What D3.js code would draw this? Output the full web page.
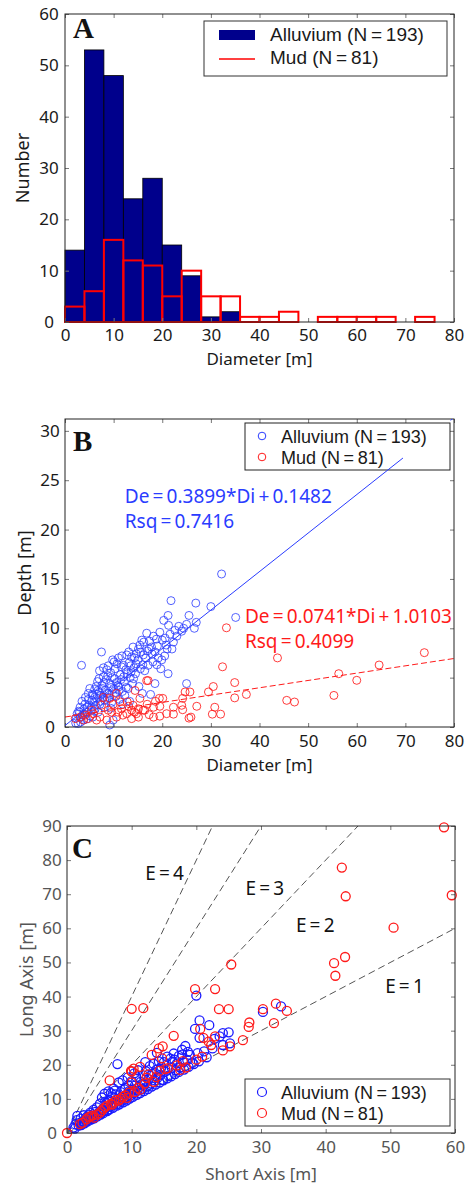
<!DOCTYPE html>
<html>
<head>
<meta charset="utf-8">
<script src="https://cdn.jsdelivr.net/npm/d3@7"></script>
<style>
  body { margin: 0; background: #fff; }
  text { font-family: "Noto Sans", sans-serif; }
  .legend-text { font-family: "Liberation Sans", Arial, sans-serif; }
</style>
</head>
<body>
<div id="chart"></div>
<script>
// ---- data ----
const binWidth = 4
const alluviumCounts = [14, 53, 48, 24, 28, 15, 9, 1, 2]
const mudCounts = [3, 6, 16, 12, 11, 5, 10, 5, 5, 1, 1, 2, 0, 1, 1, 1, 1, 0, 1]
const seriesNames = ["Alluvium (N\u2009=\u2009193)", "Mud (N\u2009=\u200981)"]

const xTicksA = [0, 10, 20, 30, 40, 50, 60, 70, 80]
const yTicksA = [0, 10, 20, 30, 40, 50, 60]
const yTicksB = [0, 5, 10, 15, 20, 25, 30]
const xTicksC = [0, 10, 20, 30, 40, 50, 60]
const yTicksC = [0, 10, 20, 30, 40, 50, 60, 70, 80, 90]

// fits: slope, intercept, rsq
const alluviumFit = [0.3899, 0.1482, 0.7416]
const mudFit = [0.0741, 1.0103, 0.4099]
const ratioLines = [1, 2, 3, 4]

// diameter [m], depth [m]
const alluviumDepth = [
  [2.3,0.9],[2.5,1.35],[2.7,0.35],[2.8,1.6],[3.1,2.0],[3.2,0.5],[3.4,6.25],[3.6,1.2],[3.8,0.7],[3.9,1.8],
  [4.1,2.3],[4.4,0.8],[4.6,1.5],[4.8,2.8],[4.8,3.4],[5.0,2.2],[5.2,1.1],[5.4,2.0],[5.5,2.7],[5.6,3.3],
  [5.8,3.2],[6.0,1.6],[6.1,3.8],[6.2,1.85],[6.3,2.2],[6.5,2.9],[6.7,4.6],[6.8,1.5],[6.8,3.7],[7.0,3.5],
  [7.1,5.7],[7.3,2.6],[7.5,7.6],[7.6,4.2],[7.8,3.0],[7.9,5.1],[8.1,2.0],[8.3,3.7],[8.5,4.8],[8.6,3.4],
  [8.7,2.9],[8.9,6.2],[9.0,3.4],[9.2,4.4],[9.2,0.2],[9.4,5.5],[9.6,2.5],[9.8,6.8],[9.9,0.7],[10.0,3.9],
  [10.2,4.9],[10.3,5.9],[10.5,3.1],[10.7,6.4],[10.9,4.2],[11.0,7.0],[11.0,4.05],[11.2,2.8],[11.4,5.3],[11.6,6.1],
  [11.8,3.6],[12.0,6.25],[12.2,4.6],[12.3,3.2],[12.5,5.8],[12.7,7.3],[13.0,3.9],[13.2,6.5],[13.4,5.0],[13.7,7.1],
  [13.9,4.4],[14.0,8.1],[14.2,6.0],[14.5,5.4],[14.7,7.4],[15.0,6.8],[15.2,4.1],[15.4,8.3],[15.8,8.8],[16.0,6.3],
  [16.1,7.3],[16.4,5.7],[16.8,9.5],[17.1,6.25],[17.3,7.9],[17.6,3.3],[17.8,8.1],[18.1,6.6],[18.5,7.6],[18.5,4.4],
  [18.8,8.9],[19.2,7.0],[19.7,5.9],[19.9,6.8],[20.0,8.8],[20.3,10.8],[20.6,9.0],[21.0,7.9],[21.2,11.3],[21.2,5.4],
  [21.3,10.3],[21.8,12.8],[22.0,7.9],[22.3,8.6],[23.0,9.2],[24.0,9.7],[25.0,10.4],[25.0,4.4],[25.5,11.3],[26.6,10.0],
  [26.9,12.55],[27.0,10.6],[30.0,12.2],[32.2,15.5],[35.1,11.1],[3.3,1.0],[4.0,1.3],[5.7,1.0],[6.4,4.1],[7.2,2.3],
  [7.7,3.9],[8.0,4.5],[8.8,5.2],[9.5,4.0],[10.4,3.5],[11.5,4.8],[12.8,5.4],[13.5,6.2],[14.3,7.0],[15.6,7.6],
  [16.6,7.0],[17.9,7.4],[19.0,8.2],[20.8,8.3],[22.6,9.8],[24.4,10.0],[2.2,0.4],[3.0,1.5],[3.5,2.6],[4.2,3.0],
  [4.5,2.0],[5.1,3.9],[5.9,2.5],[6.6,3.3],[7.0,4.9],[7.4,3.2],[7.9,6.0],[8.2,2.7],[8.6,5.8],[9.1,3.0],
  [9.7,5.0],[10.1,6.6],[10.6,4.5],[11.1,3.7],[11.7,7.2],[12.1,5.1],[12.6,4.0],[13.1,7.6],[13.6,5.6],[14.1,4.9],
  [14.6,6.4],[15.1,7.9],[15.5,5.9],[16.2,8.6],[16.9,7.7],[17.4,8.7],[18.2,9.2],[18.9,6.3],[19.5,9.6],[20.5,7.2],
  [21.6,9.4],[23.4,10.2],[11.9,2.3],[9.4,1.9],[13.3,2.6],[15.9,3.4]
]
const mudDepth = [
  [2.1,0.85],[3.1,1.0],[3.8,0.7],[4.1,1.2],[4.8,0.85],[5.5,1.7],[5.8,1.35],[6.5,0.7],[7.2,1.0],[7.5,2.2],
  [7.9,3.0],[8.6,0.7],[8.9,1.7],[9.2,2.9],[9.6,1.5],[10.6,3.4],[10.6,1.0],[10.9,1.5],[11.3,2.55],[11.6,1.85],
  [12.7,1.35],[12.8,2.55],[13.7,1.7],[13.7,0.85],[14.0,2.2],[14.4,3.7],[14.7,1.35],[15.1,1.85],[15.1,1.0],[15.4,2.9],
  [16.1,1.7],[16.4,1.7],[16.8,4.7],[17.1,4.7],[17.3,1.25],[18.2,2.0],[18.2,1.0],[19.4,2.9],[19.5,2.1],[19.5,1.1],
  [20.1,2.9],[20.9,1.35],[22.3,2.0],[22.3,1.3],[24.0,2.2],[24.2,1.75],[24.2,2.9],[24.7,3.55],[25.5,0.9],[25.7,3.55],
  [25.9,1.0],[27.1,2.1],[29.5,3.55],[30.3,1.3],[30.5,4.1],[30.8,2.0],[32.0,1.3],[32.4,6.1],[33.2,10.05],[34.9,4.5],
  [34.9,2.95],[37.3,3.3],[43.7,7.0],[45.6,2.7],[47.2,2.53],[55.3,3.2],[56.3,5.4],[60.0,4.73],[64.6,6.28],[73.9,7.53],
  [9.9,2.3],[11.9,1.2],[13.1,2.1],[14.3,1.5],[16.9,2.3],[18.6,2.6]
]

// short axis [m], long axis [m]
const alluviumAxes = [
  [1.0,1.6],[1.3,2.5],[1.5,3.8],[1.6,5.0],[1.8,2.2],[2.0,3.0],[2.1,4.2],[2.3,2.7],[2.5,3.4],[2.6,5.2],
  [2.8,3.1],[3.0,3.6],[3.1,4.8],[3.3,3.9],[3.5,4.3],[3.6,6.0],[3.8,4.1],[4.0,5.0],[4.1,6.8],[4.3,4.6],
  [4.5,5.3],[4.6,7.5],[4.8,5.7],[5.0,6.2],[5.1,8.6],[5.3,5.9],[5.4,10.4],[5.5,7.0],[5.7,6.4],[5.8,11.5],
  [6.0,7.3],[6.1,8.8],[6.3,6.8],[6.4,12.2],[6.5,9.6],[6.7,7.8],[6.9,10.6],[7.0,8.2],[7.2,13.0],[7.3,9.0],
  [7.5,11.3],[7.6,8.4],[7.8,20.2],[7.9,10.0],[8.0,14.8],[8.2,9.3],[8.3,12.0],[8.5,10.6],[8.6,15.4],[8.8,9.8],
  [9.0,13.2],[9.1,11.2],[9.3,10.4],[9.5,14.0],[9.6,12.3],[9.8,11.0],[10.0,15.2],[10.1,12.8],[10.3,11.6],[10.5,13.9],
  [10.7,16.4],[10.9,12.4],[11.0,18.4],[11.2,13.5],[11.4,15.0],[11.6,12.9],[11.8,16.9],[12.0,14.2],[12.2,18.1],[12.4,13.6],
  [12.6,15.8],[12.8,19.6],[13.0,14.5],[13.2,17.3],[13.4,20.3],[13.6,15.4],[13.8,18.5],[14.0,16.2],[14.2,21.0],[14.4,17.0],
  [14.6,19.4],[14.8,15.6],[15.0,20.8],[15.2,18.0],[15.5,22.4],[15.7,16.8],[16.0,21.8],[16.2,19.1],[16.3,20.9],[16.5,23.3],
  [16.8,18.4],[17.0,20.4],[17.3,22.6],[17.5,19.2],[17.8,24.4],[17.8,23.0],[18.0,20.8],[18.3,25.5],[18.6,21.4],[19.0,22.9],
  [19.4,20.6],[19.8,30.5],[20.0,40.3],[20.2,23.4],[20.5,33.0],[20.5,27.9],[21.2,23.9],[21.6,22.2],[22.0,31.6],[22.5,24.8],
  [23.6,28.3],[24.1,29.3],[24.1,25.8],[25.0,29.5],[25.2,26.3],[30.3,35.5],[33.1,37.1],[1.2,1.3],[2.2,2.3],[2.7,2.8],
  [3.2,3.4],[3.7,3.9],[4.2,4.3],[4.7,4.9],[5.2,5.4],[5.6,5.8],[6.2,6.4],[6.6,6.9],[7.1,7.4],[7.7,8.0],
  [8.1,8.4],[8.7,9.0],[9.2,9.5],[9.7,10.1],[10.2,10.6],[10.8,11.2],[11.3,11.7],[11.9,12.3],[12.5,12.9],[13.1,13.6],
  [13.7,14.2],[14.3,14.8],[14.9,15.4],[15.5,16.0],[16.1,16.6],[16.7,17.3],[17.3,17.9],[18.1,18.6],[18.8,19.4],[19.6,20.2],
  [20.4,21.0],[3.4,5.4],[4.4,6.2],[5.9,9.2],[7.4,12.4],[8.9,12.8],[10.4,17.5],[11.6,14.1],[12.9,16.8],[14.5,18.9],
  [16.6,21.5],[18.7,23.8],[6.8,11.7],[9.4,16.3],[12.1,20.8],[13.9,23.5],[22.8,27.6]
]
const mudAxes = [
  [0,0],[2.0,2.6],[2.4,3.0],[3.0,4.0],[3.3,4.6],[3.6,4.9],[3.9,5.1],[4.2,4.5],[4.6,5.4],[5.0,5.8],
  [5.3,6.4],[5.6,7.1],[5.9,7.6],[6.2,8.0],[6.6,15.4],[6.8,8.5],[7.0,8.3],[7.3,9.1],[7.6,9.7],[8.0,9.5],
  [8.3,10.0],[8.6,10.6],[9.0,11.0],[9.3,10.3],[9.6,11.8],[9.9,18.2],[10.0,14.8],[10.0,36.4],[10.3,18.9],[10.0,18.0],
  [10.5,12.0],[11.0,13.2],[11.3,19.4],[11.3,12.7],[11.8,36.6],[12.0,14.5],[12.3,16.2],[12.6,17.2],[13.1,22.9],[13.4,15.0],
  [13.8,16.4],[14.2,24.8],[14.3,18.2],[14.7,21.9],[14.8,25.4],[15.2,18.7],[15.6,19.0],[16.5,28.5],[17.0,19.8],[17.5,18.5],
  [17.9,21.1],[18.4,19.2],[19.8,42.2],[20.0,21.5],[20.6,30.5],[20.9,22.4],[21.1,27.9],[21.9,26.8],[22.3,25.8],[22.9,28.3],
  [22.9,42.2],[23.5,36.3],[24.1,24.2],[25.0,36.3],[25.2,25.4],[25.4,49.4],[27.2,27.2],[28.1,31.1],[28.2,32.4],[30.3,36.3],
  [32.0,32.2],[32.3,37.9],[34.0,35.8],[41.3,49.8],[41.5,46.1],[42.5,77.8],[43.0,51.6],[43.1,69.4],[50.5,60.2],[58.3,89.6],
  [59.5,69.7]
]

// ---- drawing ----
const navy = "#00008c"
const red = "#ff1a1a"
const blue = "#2a3cff"

const svg = d3.select("#chart").append("svg")
    .attr("width", 476)
    .attr("height", 1186)

const boxA = { left: 65, right: 454, top: 14, bottom: 322 }
const boxB = { left: 65, right: 454, top: 419, bottom: 727 }
const boxC = { left: 67, right: 455, top: 826, bottom: 1133 }

function drawAxes(box, x, y, xTicks, yTicks, color, yLabelCenter, pad) {
  const g = svg.append("g")
  const tickColor = "#777"
  const fmt = d3.format("d")

  const bottom = g.append("g")
      .attr("transform", `translate(0,${box.bottom})`)
      .call(d3.axisBottom(x).tickValues(xTicks).tickSize(-4).tickPadding(pad).tickFormat(fmt))
  const top = g.append("g")
      .attr("transform", `translate(0,${box.top})`)
      .call(d3.axisTop(x).tickValues(xTicks).tickSize(-4).tickFormat(""))
  const left = g.append("g")
      .attr("transform", `translate(${box.left},0)`)
      .call(d3.axisLeft(y).tickValues(yTicks).tickSize(-4).tickFormat(fmt))
  const right = g.append("g")
      .attr("transform", `translate(${box.right},0)`)
      .call(d3.axisRight(y).tickValues(yTicks).tickSize(-4).tickFormat(""))

  ;[bottom, top, left, right].forEach(a => {
    a.select(".domain").remove()
    a.selectAll(".tick line").attr("stroke", tickColor)
    a.selectAll("text")
      .attr("fill", color)
      .style("font-size", "17px")
      .style("font-family", "'Noto Sans', sans-serif")
  })
  left.selectAll("text")
      .attr("text-anchor", "middle")
      .attr("x", yLabelCenter - box.left)

  g.append("rect")
      .attr("x", box.left)
      .attr("y", box.top)
      .attr("width", box.right - box.left)
      .attr("height", box.bottom - box.top)
      .attr("fill", "none")
      .attr("stroke", "#222")
      .attr("stroke-width", 1)
}

function axisTitles(box, xTitle, yTitle, xBase, yBase, color) {
  svg.append("text")
      .attr("x", (box.left + box.right) / 2)
      .attr("y", xBase)
      .attr("text-anchor", "middle")
      .attr("fill", color)
      .style("font-size", "17px")
      .text(xTitle)
  svg.append("text")
      .attr("transform", `translate(${yBase},${(box.top + box.bottom) / 2}) rotate(-90)`)
      .attr("text-anchor", "middle")
      .attr("fill", color)
      .style("font-size", "18px")
      .text(yTitle)
}

function panelLetter(label, x, y) {
  svg.append("text")
      .attr("x", x)
      .attr("y", y)
      .attr("fill", "#111")
      .style("font-family", "'Liberation Serif', 'DejaVu Serif', serif")
      .style("font-weight", "bold")
      .style("font-size", "29px")
      .text(label)
}

function clipFor(id, box) {
  svg.append("clipPath").attr("id", id)
    .append("rect")
      .attr("x", box.left).attr("y", box.top)
      .attr("width", box.right - box.left).attr("height", box.bottom - box.top)
  return `url(#${id})`
}

// legend texts, one per series
function legendTexts(g, x, y0, step, size) {
  g.selectAll("text")
    .data(seriesNames)
    .join("text")
      .attr("class", "legend-text")
      .attr("x", x)
      .attr("y", (d, i) => y0 + i * step)
      .attr("fill", "#1a1a1a")
      .style("font-size", size + "px")
      .text(d => d)
}

// ===== A: histogram =====
{
  const x = d3.scaleLinear().domain([0, 80]).range([boxA.left, boxA.right])
  const y = d3.scaleLinear().domain([0, 60]).range([boxA.bottom, boxA.top])

  svg.append("g").selectAll("rect")
    .data(alluviumCounts)
    .join("rect")
      .attr("x", (d, i) => x(i * binWidth))
      .attr("y", d => y(d))
      .attr("width", x(binWidth) - x(0))
      .attr("height", d => y(0) - y(d))
      .attr("fill", navy)
      .attr("stroke", "#000")
      .attr("stroke-width", 0.8)

  svg.append("g").selectAll("rect")
    .data(mudCounts.map((c, i) => ({ c, i })).filter(d => d.c > 0))
    .join("rect")
      .attr("x", d => x(d.i * binWidth))
      .attr("y", d => y(d.c))
      .attr("width", x(binWidth) - x(0))
      .attr("height", d => y(0) - y(d.c))
      .attr("fill", "none")
      .attr("stroke", "#ff0000")
      .attr("stroke-width", 2)

  drawAxes(boxA, x, y, xTicksA, yTicksA, "#1a1a1a", 49, 7)
  axisTitles(boxA, "Diameter [m]", "Number", 365, 29, "#1a1a1a")
  panelLetter("A", 73, 38)

  // legend
  const lg = svg.append("g")
  lg.append("rect")
      .attr("x", 204).attr("y", 21).attr("width", 243).attr("height", 55)
      .attr("fill", "#fff").attr("stroke", "#333").attr("stroke-width", 1)
  lg.append("rect")
      .attr("x", 219).attr("y", 30).attr("width", 36).attr("height", 10)
      .attr("fill", navy)
  lg.append("line")
      .attr("x1", 219).attr("x2", 255).attr("y1", 59).attr("y2", 59)
      .attr("stroke", "#ff0000").attr("stroke-width", 1.5)
  legendTexts(lg, 270, 41, 23, 19)
}

// ===== B: depth vs diameter =====
{
  const x = d3.scaleLinear().domain([0, 80]).range([boxB.left, boxB.right])
  const y = d3.scaleLinear().domain([0, 31.2]).range([boxB.bottom, boxB.top])
  const clip = clipFor("clipB", boxB)

  svg.append("g").selectAll("circle")
    .data(alluviumDepth)
    .join("circle")
      .attr("cx", d => x(d[0]))
      .attr("cy", d => y(d[1]))
      .attr("r", 4)
      .attr("fill", "none")
      .attr("stroke", blue)
      .attr("stroke-opacity", 0.8)
      .attr("stroke-width", 1)

  svg.append("g").selectAll("circle")
    .data(mudDepth)
    .join("circle")
      .attr("cx", d => x(d[0]))
      .attr("cy", d => y(d[1]))
      .attr("r", 4)
      .attr("fill", "none")
      .attr("stroke", red)
      .attr("stroke-opacity", 0.85)
      .attr("stroke-width", 1)

  const fitLine = fit => d3.line()
      .x(d => x(d))
      .y(d => y(fit[0] * d + fit[1]))

  svg.append("path")
      .attr("clip-path", clip)
      .attr("d", fitLine(mudFit)([0, 80]))
      .attr("fill", "none")
      .attr("stroke", red)
      .attr("stroke-width", 1)
      .attr("stroke-dasharray", "6,3")

  drawAxes(boxB, x, y, xTicksA, yTicksB, "#1a1a1a", 50, 8)
  axisTitles(boxB, "Diameter [m]", "Depth [m]", 771, 31, "#1a1a1a")
  panelLetter("B", 73, 451)

  // legend
  const lg = svg.append("g")
  lg.append("rect")
      .attr("x", 245).attr("y", 423).attr("width", 205).attr("height", 47)
      .attr("fill", "#fff").attr("stroke", "#222").attr("stroke-width", 1)
  lg.selectAll("circle")
    .data([blue, red])
    .join("circle")
      .attr("cx", 262)
      .attr("cy", (d, i) => 436 + i * 21)
      .attr("r", 3.8)
      .attr("fill", "none")
      .attr("stroke", d => d)
      .attr("stroke-width", 1)
  legendTexts(lg, 281, 443, 21, 18)

  // blue fit drawn above the legend, as in the original
  ;[[0, 69.5], [79.3, 80]].forEach(seg => {
    svg.append("path")
        .attr("clip-path", clip)
        .attr("d", fitLine(alluviumFit)(seg))
        .attr("fill", "none")
        .attr("stroke", blue)
        .attr("stroke-width", 1)
  })

  const eq = (fit, color, xv, yv) => {
    svg.append("text")
        .attr("x", x(xv)).attr("y", y(yv))
        .attr("fill", color)
        .style("font-size", "19px")
        .text(`De\u2009=\u2009${fit[0]}*Di\u2009+\u2009${fit[1]}`)
    svg.append("text")
        .attr("x", x(xv)).attr("y", y(yv) + 25)
        .attr("fill", color)
        .style("font-size", "19px")
        .text(`Rsq\u2009=\u2009${fit[2]}`)
  }
  eq(alluviumFit, blue, 12.3, 22.7)
  eq(mudFit, red, 37.0, 10.5)
}

// ===== C: long vs short axis =====
{
  const x = d3.scaleLinear().domain([0, 60]).range([boxC.left, boxC.right])
  const y = d3.scaleLinear().domain([0, 90]).range([boxC.bottom, boxC.top])
  const clip = clipFor("clipC", boxC)

  svg.append("g").attr("clip-path", clip).selectAll("line")
    .data(ratioLines)
    .join("line")
      .attr("x1", x(0)).attr("y1", y(0))
      .attr("x2", x(60)).attr("y2", e => y(60 * e))
      .attr("stroke", "#555")
      .attr("stroke-width", 1)
      .attr("stroke-dasharray", "7,4")

  svg.append("g").selectAll("circle")
    .data(alluviumAxes)
    .join("circle")
      .attr("cx", d => x(d[0]))
      .attr("cy", d => y(d[1]))
      .attr("r", 4.5)
      .attr("fill", "none")
      .attr("stroke", "#1a1aff")
      .attr("stroke-width", 1.3)

  svg.append("g").selectAll("circle")
    .data(mudAxes)
    .join("circle")
      .attr("cx", d => x(d[0]))
      .attr("cy", d => y(d[1]))
      .attr("r", 4.5)
      .attr("fill", "none")
      .attr("stroke", "#ff1a1a")
      .attr("stroke-width", 1.3)

  // E labels
  const eLabelPos = [[49.2, 41.1], [35.4, 59.0], [27.6, 69.8], [12.1, 74.2]]
  svg.append("g").selectAll("text")
    .data(ratioLines)
    .join("text")
      .attr("x", (e, i) => x(eLabelPos[i][0]))
      .attr("y", (e, i) => y(eLabelPos[i][1]))
      .attr("fill", "#111")
      .style("font-size", "19px")
      .text(e => `E\u2009=\u2009${e}`)

  drawAxes(boxC, x, y, xTicksC, yTicksC, "#555", 52, 8)
  axisTitles(boxC, "Short Axis [m]", "Long Axis [m]", 1180, 33, "#555")
  panelLetter("C", 72, 858)

  const lg = svg.append("g")
  lg.append("rect")
      .attr("x", 245).attr("y", 1079).attr("width", 205).attr("height", 47)
      .attr("fill", "#fff").attr("stroke", "#333").attr("stroke-width", 1)
  lg.selectAll("circle")
    .data(["#1a1aff", "#ff1a1a"])
    .join("circle")
      .attr("cx", 262)
      .attr("cy", (d, i) => 1092 + i * 21)
      .attr("r", 4.5)
      .attr("fill", "none")
      .attr("stroke", d => d)
      .attr("stroke-width", 1.2)
  legendTexts(lg, 281, 1099, 21, 18)
}
</script>
</body>
</html>
